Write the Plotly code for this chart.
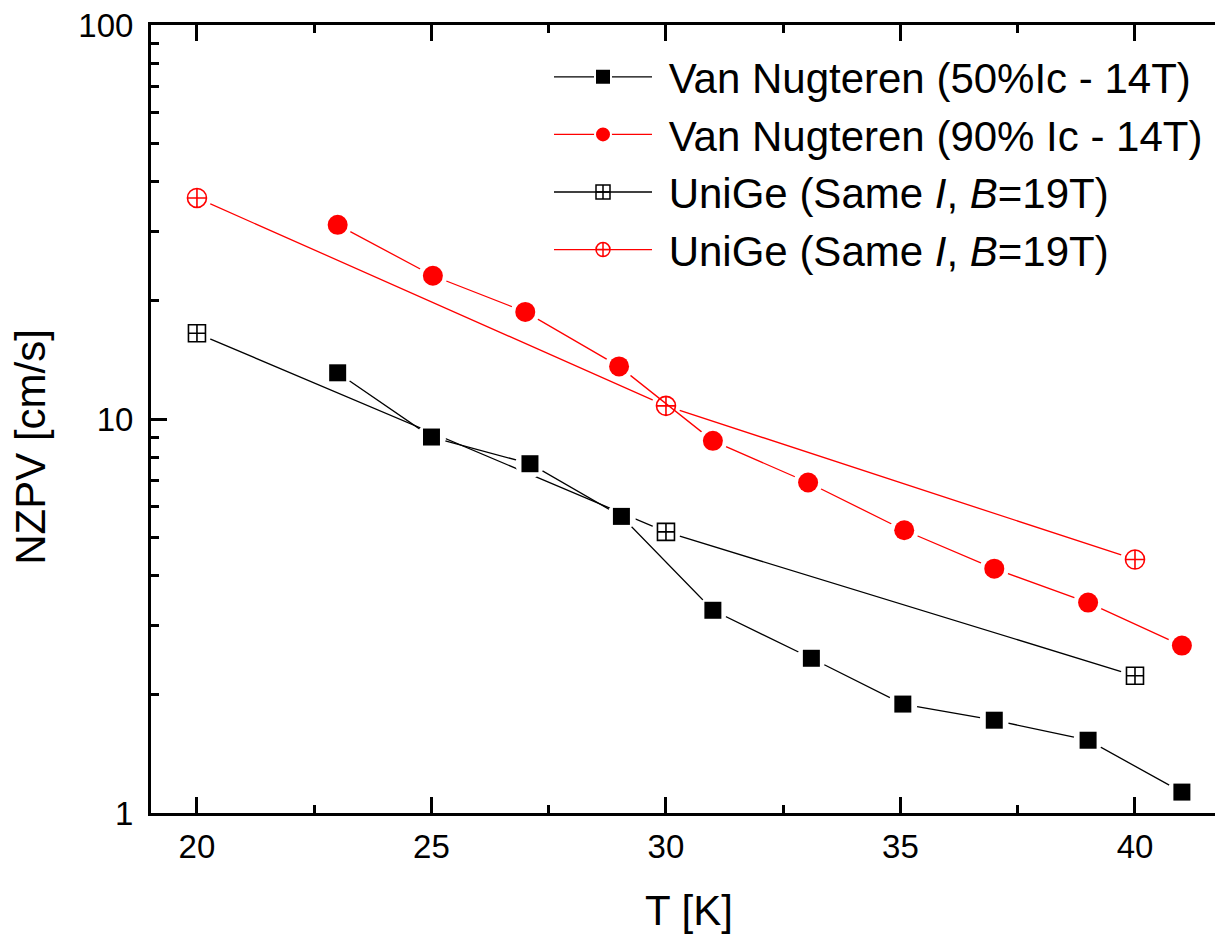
import plotly.graph_objects as go

# Van Nugteren model, 50% Ic at 14 T
T_vn50 = [23, 25, 27.1, 29.05, 31, 33.1, 35.05, 37, 39, 41]
nzpv_vn50 = [13.1, 9.0, 7.7, 5.66, 3.27, 2.47, 1.89, 1.72, 1.53, 1.13]

# Van Nugteren model, 90% Ic at 14 T
T_vn90 = [23, 25.03, 27, 29, 31, 33.03, 35.08, 37, 39, 41]
nzpv_vn90 = [31.1, 23.1, 18.7, 13.6, 8.8, 6.9, 5.22, 4.17, 3.42, 2.66]

# UniGe measurements at 19 T
T_unige = [20, 30, 40]
nzpv_unige_black = [16.5, 5.17, 2.23]
nzpv_unige_red = [36.4, 10.8, 4.40]

names = [
    "Van Nugteren (50%Ic - 14T)",
    "Van Nugteren (90% Ic - 14T)",
    "UniGe (Same <i>I</i>, <i>B</i>=19T)",
    "UniGe (Same <i>I</i>, <i>B</i>=19T)",
]

RED = "#ff0000"
BLACK = "#000000"
FONT = "Liberation Sans, Arial, sans-serif"

series = [
    # (x, y, colour, symbol, size, open)
    (T_unige, nzpv_unige_black, BLACK, "square-cross-open", 17, True),
    (T_unige, nzpv_unige_red, RED, "circle-cross-open", 19, True),
    (T_vn50, nzpv_vn50, BLACK, "square", 17, False),
    (T_vn90, nzpv_vn90, RED, "circle", 20, False),
]

fig = go.Figure()

for x, y, col, sym, sz, is_open in series:
    # connecting line
    fig.add_trace(go.Scatter(x=x, y=y, mode="lines", showlegend=False,
                             line=dict(color=col, width=1.3), hoverinfo="skip"))
    # white halo leaves a small gap between line and marker
    fig.add_trace(go.Scatter(x=x, y=y, mode="markers", showlegend=False,
                             marker=dict(symbol="circle", size=29, color="white",
                                         line=dict(width=0)), hoverinfo="skip"))
    # the markers themselves
    if is_open:
        mk = dict(symbol=sym, size=sz, color=col, line=dict(color=col, width=1.6))
    else:
        mk = dict(symbol=sym, size=sz, color=col, line=dict(width=0))
    fig.add_trace(go.Scatter(x=x, y=y, mode="markers", showlegend=False, marker=mk))

# legend entries, in the order they are listed
legend_styles = [
    (BLACK, "square", False),
    (RED, "circle", False),
    (BLACK, "square-cross-open", True),
    (RED, "circle-cross-open", True),
]
for name, (col, sym, is_open) in zip(names, legend_styles):
    if is_open:
        mk = dict(symbol=sym, size=14, color=col, line=dict(color=col, width=1.5))
    else:
        mk = dict(symbol=sym, size=16, color=col, line=dict(color="white", width=2))
    fig.add_trace(go.Scatter(x=[None], y=[None], mode="lines+markers",
                             name="\u00a0" + name,
                             line=dict(color=col, width=1.3), marker=mk))

axis_common = dict(
    showline=True, linecolor="black", linewidth=3,
    ticks="inside", ticklen=16, tickwidth=3, tickcolor="black",
    showgrid=False, zeroline=False,
    tickfont=dict(family=FONT, size=33, color="black"),
)

fig.update_xaxes(
    range=[19.02, 41.706], tickmode="linear", tick0=20, dtick=5,
    mirror="ticks",
    minor=dict(ticks="inside", ticklen=8, tickwidth=3, tickcolor="black", dtick=2.5, tick0=20),
    ticklabelstandoff=2,
    **axis_common,
)
fig.update_yaxes(
    type="log", range=[0, 2], dtick=1,
    mirror=False,
    minor=dict(ticks="inside", ticklen=8, tickwidth=3, tickcolor="black", dtick="D1"),
    ticklabelstandoff=8,
    **axis_common,
)

fig.add_annotation(text="NZPV [cm/s]", xref="paper", yref="paper",
                   x=-0.113, y=0.4645, textangle=-90, showarrow=False,
                   xanchor="center", yanchor="middle",
                   font=dict(family=FONT, size=42, color="black"))
fig.add_annotation(text="T [K]", xref="paper", yref="paper",
                   x=0.5056, y=-0.124, showarrow=False,
                   xanchor="center", yanchor="middle",
                   font=dict(family=FONT, size=42, color="black"))

fig.update_layout(
    width=1215, height=936,
    margin=dict(l=151, r=0, t=25, b=123, autoexpand=False),
    paper_bgcolor="white", plot_bgcolor="white",
    showlegend=True,
    legend=dict(
        x=(549 - 151) / 1064, y=1 - (43 - 25) / 788,
        xanchor="left", yanchor="top",
        bgcolor="rgba(0,0,0,0)", borderwidth=0,
        itemwidth=98, tracegroupgap=0,
        font=dict(family=FONT, size=42, color="black"),
    ),
)

fig.write_html("out.html")
